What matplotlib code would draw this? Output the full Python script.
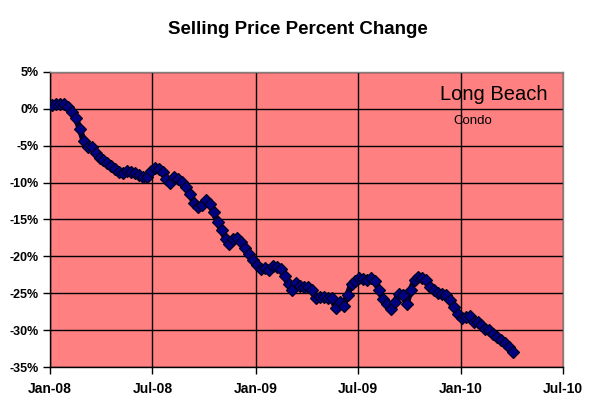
import matplotlib
matplotlib.use("Agg")
import matplotlib.pyplot as plt
import matplotlib.dates as mdates
import pandas as pd
import numpy as np

plt.rcParams['font.family'] = ['Liberation Sans', 'DejaVu Sans']
plt.rcParams['axes.unicode_minus'] = False

title = "Selling Price Percent Change"
region = "Long Beach"
property_type = "Condo"

start_date = "2008-01-05"
pct_change = [
    0.5, 0.62, 0.7, 0.7, 0.25, -0.45, -1.3, -2.7, -4.4, -5.15,
    -5.15, -6.0, -6.7, -6.9, -7.3, -7.7, -8.1, -8.5, -8.67, -8.45,
    -8.6, -8.75, -9.0, -9.25, -9.2, -8.4, -8.0, -8.2, -8.5, -9.5,
    -10.0, -9.3, -9.5, -9.9, -10.6, -11.5, -12.7, -13.3, -13.1, -12.4,
    -12.9, -14.0, -15.4, -16.4, -17.6, -18.3, -17.6, -17.5, -18.1, -18.8,
    -19.7, -20.5, -21.2, -21.7, -21.55, -21.8, -21.3, -21.4, -21.7, -22.6,
    -23.8, -24.5, -23.6, -23.95, -24.1, -24.1, -24.6, -25.7, -25.5, -25.55,
    -25.7, -25.6, -27.0, -26.2, -26.7, -25.2, -23.7, -23.3, -22.95, -23.0,
    -23.15, -22.9, -23.4, -24.5, -25.8, -26.5, -27.1, -26.2, -25.1, -25.3,
    -26.4, -24.6, -23.2, -22.85, -22.95, -23.2, -24.2, -24.6, -24.9, -25.05,
    -25.3, -25.9, -26.8, -27.8, -28.4, -28.2, -28.1, -28.9, -28.85, -29.35,
    -29.8, -30.0, -30.5, -30.9, -31.3, -31.7, -32.3, -33.0,
]
dates = pd.date_range(start_date, periods=len(pct_change), freq="7D")

x_ticks = pd.to_datetime(["2008-01-01", "2008-07-01", "2009-01-01",
                          "2009-07-01", "2010-01-01", "2010-07-01"])
y_ticks = [5, 0, -5, -10, -15, -20, -25, -30, -35]

fig = plt.figure(figsize=(5.97, 4.07), dpi=100)
fig.patch.set_facecolor("white")
ax = fig.add_axes([50/597, 1-367/407, 513/597, 295/407])
ax.set_facecolor("#FF8080")

ax.plot(dates, pct_change, color="#000033", lw=4.5, zorder=3,
        solid_joinstyle="round", solid_capstyle="round")
ax.plot(dates, pct_change, linestyle="none", marker="D", markersize=6,
        markerfacecolor="#000080", markeredgecolor="#000020",
        markeredgewidth=0.9, zorder=4)

ax.set_xlim(x_ticks[0], x_ticks[-1])
ax.set_ylim(-35, 5)
ax.set_xticks(x_ticks)
ax.xaxis.set_major_formatter(mdates.DateFormatter("%b-%y"))
ax.set_yticks(y_ticks)
ax.set_yticklabels([f"{v}%" for v in y_ticks])

ax.grid(True, color="black", lw=1)
ax.set_axisbelow(True)
for lab in ax.get_xticklabels():
    lab.set_fontweight("bold")
    lab.set_fontsize(10)
for lab in ax.get_yticklabels():
    lab.set_fontweight("bold")
    lab.set_fontsize(9)
ax.tick_params(axis="both", direction="out", length=5, width=1, color="black")
ax.tick_params(axis="x", pad=6)
ax.tick_params(axis="y", pad=3)

for s in ["left", "bottom"]:
    ax.spines[s].set_color("black")
    ax.spines[s].set_linewidth(1)
for s in ["top", "right"]:
    ax.spines[s].set_color("#808080")
    ax.spines[s].set_linewidth(1)

fig.text(298/597, 1-29/407, title, ha="center", va="center",
         fontsize=13.5, fontweight="bold")
ax.text(0.97, 0.925, region, transform=ax.transAxes, ha="right", va="center",
        fontsize=14.5)
ax.text(0.825, 0.835, property_type, transform=ax.transAxes, ha="center",
        va="center", fontsize=9.5)

fig.savefig("out.png", dpi=100, facecolor="white")
